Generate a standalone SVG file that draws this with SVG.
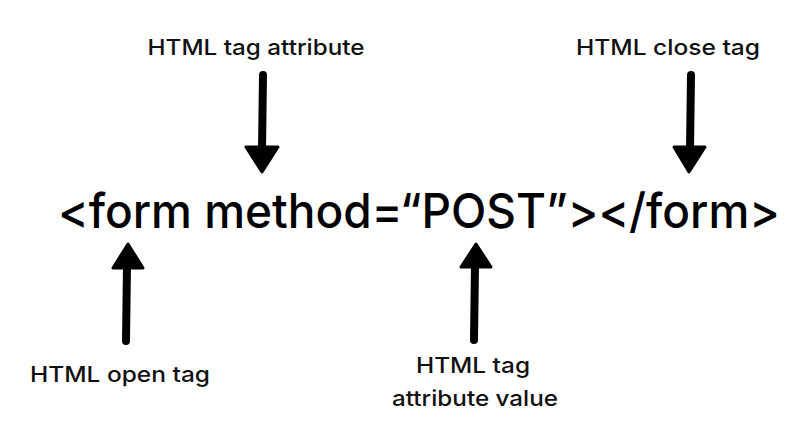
<svg xmlns="http://www.w3.org/2000/svg" width="810" height="430" viewBox="0 0 810 430">
<defs>
<style>
.lbl{font-family:"Inter","Lato","Noto Sans","Liberation Sans",sans-serif;font-size:22px;font-weight:500;fill:#111;}
.code{font-family:"Inter","Lato","Noto Sans","Liberation Sans",sans-serif;font-size:48px;font-weight:500;fill:#000;}
.shaft{stroke:#000;stroke-width:8;stroke-linecap:round;fill:none;}
.head{fill:#000;stroke:#000;stroke-width:3;stroke-linejoin:round;}
</style>
</defs>
<rect width="810" height="430" fill="#fff"/>
<g id="code">
<text class="code" x="58" y="228" textLength="722" lengthAdjust="spacingAndGlyphs">&lt;form method=“POST”&gt;&lt;/form&gt;</text>
</g>
<g id="tag-attribute">
<text class="lbl" x="256" y="55" text-anchor="middle" textLength="217" lengthAdjust="spacingAndGlyphs">HTML tag attribute</text>
</g>
<g id="close-tag">
<text class="lbl" x="668" y="55" text-anchor="middle" textLength="184" lengthAdjust="spacingAndGlyphs">HTML close tag</text>
</g>
<g id="open-tag">
<text class="lbl" x="120" y="382" text-anchor="middle" textLength="180" lengthAdjust="spacingAndGlyphs">HTML open tag</text>
</g>
<g id="attribute-value">
<text class="lbl" x="473" y="373" text-anchor="middle" textLength="114" lengthAdjust="spacingAndGlyphs">HTML tag</text>
<text class="lbl" x="475" y="406" text-anchor="middle" textLength="166" lengthAdjust="spacingAndGlyphs">attribute value</text>
</g>
<g id="connectors">
<line class="shaft" x1="263" y1="75" x2="262" y2="150"/>
<path class="head" d="M246,147 L278,147 L262,172 Z"/>
<line class="shaft" x1="691" y1="75" x2="690" y2="150"/>
<path class="head" d="M674,147 L705,147 L689,172 Z"/>
<line class="shaft" x1="127" y1="264" x2="126" y2="341"/>
<path class="head" d="M113,268 L143,268 L128,244 Z"/>
<line class="shaft" x1="475" y1="264" x2="474" y2="340"/>
<path class="head" d="M461,267 L491,267 L476,244 Z"/>
</g>
</svg>
